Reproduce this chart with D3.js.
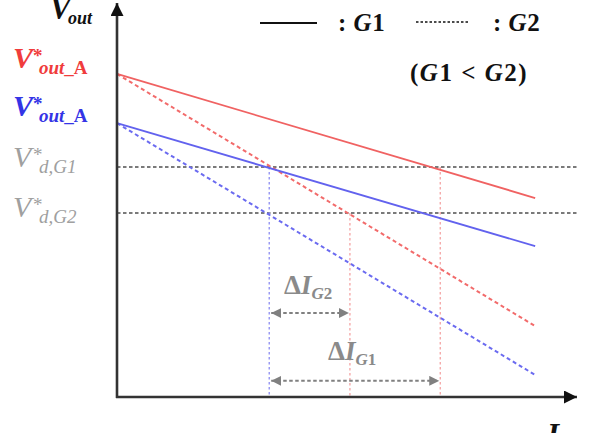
<!DOCTYPE html>
<html>
<head>
<meta charset="utf-8">
<script src="https://cdn.jsdelivr.net/npm/d3@7"></script>
<style>
  body { margin: 0; background: #fff; }
  svg { display: block; font-family: "Liberation Serif", "Times New Roman", serif; }
</style>
</head>
<body>
<svg id="chart" width="597" height="433"></svg>
<script>
// current on x, voltage on y (arbitrary units)
var iRange   = [0, 10],
	redG1    = [8.2, 5.05],
	redG2    = [8.2, 1.8],
	blueG1   = [6.95, 3.83],
	blueG2   = [6.95, 0.56];

var refLevels = [5.84, 4.67],
	refNames  = ["d,G1", "d,G2"];

// vertical guides: current where a line meets a reference level
var guideI   = [3.64, 5.57, 7.73],
	guideTop = [5.84, 4.67, 5.84],
	guideCol = ["#8c8cf2", "#f4a3a3", "#f4a3a3"];

// ΔI arrows
var deltaFrom = [3.64, 3.64],
	deltaTo   = [5.57, 7.73],
	deltaV    = [2.13, 0.41],
	deltaName = ["G2", "G1"];

var svg = d3.select("#chart");

var x = d3.scaleLinear().domain([0, 11]).range([117, 577]),
	y = d3.scaleLinear().domain([0, 10]).range([397, 3]);

var defs = svg.append("defs");
defs.append("marker")
	.attr("id", "axisHead")
	.attr("viewBox", "0 0 10 10")
	.attr("refX", 10).attr("refY", 5)
	.attr("markerWidth", 5).attr("markerHeight", 5)
	.attr("markerUnits", "strokeWidth")
	.attr("orient", "auto")
  .append("path").attr("d", "M0,0L10,5L0,10Z").attr("fill", "#111");
defs.append("marker")
	.attr("id", "grayHead")
	.attr("viewBox", "0 0 10 10")
	.attr("refX", 10).attr("refY", 5)
	.attr("markerWidth", 5).attr("markerHeight", 5)
	.attr("markerUnits", "strokeWidth")
	.attr("orient", "auto-start-reverse")
  .append("path").attr("d", "M0,0L10,5L0,10Z").attr("fill", "#808080");

// reference levels
svg.selectAll(".ref")
	.data(refLevels)
  .enter().append("line")
	.attr("class", "ref")
	.attr("x1", x(0)).attr("x2", x(11))
	.attr("y1", d => y(d)).attr("y2", d => y(d))
	.attr("stroke", "#7a7a7a")
	.attr("stroke-width", 2)
	.attr("stroke-dasharray", "3.5,2.5");

// vertical guides
svg.selectAll(".guide")
	.data(guideI)
  .enter().append("line")
	.attr("class", "guide")
	.attr("x1", d => x(d)).attr("x2", d => x(d))
	.attr("y1", (d, i) => y(guideTop[i])).attr("y2", y(0))
	.attr("stroke", (d, i) => guideCol[i])
	.attr("stroke-width", 1.3)
	.attr("stroke-dasharray", "2.5,2.5");

// load lines
var lines = [
	{v: redG2,  color: "#f26b6b", dash: "4,3", w: 2},
	{v: blueG2, color: "#6b6bf0", dash: "4,3", w: 2},
	{v: redG1,  color: "#f06262", dash: null,  w: 1.8},
	{v: blueG1, color: "#6262ee", dash: null,  w: 1.8}
];
var line = d3.line().x((d, i) => x(iRange[i])).y(d => y(d));
svg.selectAll(".load")
	.data(lines)
  .enter().append("path")
	.attr("class", "load")
	.attr("d", d => line(d.v))
	.attr("fill", "none")
	.attr("stroke", d => d.color)
	.attr("stroke-width", d => d.w)
	.attr("stroke-dasharray", d => d.dash);

// ΔI arrows
svg.selectAll(".delta")
	.data(deltaV)
  .enter().append("line")
	.attr("class", "delta")
	.attr("x1", (d, i) => x(deltaFrom[i]) + 2).attr("x2", (d, i) => x(deltaTo[i]) - 1)
	.attr("y1", d => y(d)).attr("y2", d => y(d))
	.attr("stroke", "#808080")
	.attr("stroke-width", 2)
	.attr("stroke-dasharray", "3.5,2.5")
	.attr("marker-start", "url(#grayHead)")
	.attr("marker-end", "url(#grayHead)");

var dLabel = svg.selectAll(".dlabel")
	.data(deltaName)
  .enter().append("text")
	.attr("class", "dlabel")
	.attr("x", (d, i) => i == 0 ? 284 : 328)
	.attr("y", (d, i) => i == 0 ? 294 : 360)
	.attr("fill", "#8a8a8a")
	.attr("font-size", 27)
	.attr("font-weight", "bold");
dLabel.append("tspan").text("Δ");
dLabel.append("tspan").attr("font-style", "italic").text("I");
dLabel.append("tspan").attr("font-size", 17).attr("dy", 5).attr("font-style", "italic")
	.text(d => d.charAt(0));
dLabel.append("tspan").attr("font-size", 17).text(d => d.charAt(1));

// axes
svg.append("line")
	.attr("x1", x(0)).attr("x2", x(0))
	.attr("y1", y(0) + 1).attr("y2", y(10))
	.attr("stroke", "#333").attr("stroke-width", 2.6)
	.attr("marker-end", "url(#axisHead)");
svg.append("line")
	.attr("x1", x(0) - 1).attr("x2", x(11))
	.attr("y1", y(0)).attr("y2", y(0))
	.attr("stroke", "#333").attr("stroke-width", 2.6)
	.attr("marker-end", "url(#axisHead)");

// axis titles
function axisTitle(xp, yp, letter, subX, subY) {
	var t = svg.append("text").attr("x", xp).attr("y", yp)
		.attr("font-size", 31).attr("font-weight", "bold").attr("font-style", "italic").attr("fill", "#111");
	t.append("tspan").text(letter);
	t.append("tspan").attr("x", subX).attr("y", subY).attr("font-size", 18).text("out");
}
axisTitle(50, 19, "V", 68, 24);
axisTitle(547, 445, "I", 562, 450);

// left labels: V, star, subscript placed separately
function starLabel(yp, color, weight, sub, tail) {
	var t = svg.append("text").attr("x", 13).attr("y", yp)
		.attr("fill", color).attr("font-size", 30).attr("font-weight", weight);
	t.append("tspan").attr("font-style", "italic").text("V");
	t.append("tspan").attr("x", 33).attr("y", yp - 6).attr("font-size", 19).text("*");
	t.append("tspan").attr("x", 39).attr("y", yp + 6).attr("font-size", 19).attr("font-style", "italic").text(sub);
	if (tail) t.append("tspan").attr("font-size", 19).text(tail);
}
starLabel(68, "#f03c3c", "bold", "out", "_A");
starLabel(116, "#3434e6", "bold", "out", "_A");
starLabel(167, "#a0a0a0", "normal", refNames[0], null);
starLabel(217, "#a0a0a0", "normal", refNames[1], null);

// legend
svg.append("line").attr("x1", 260).attr("x2", 317).attr("y1", 23).attr("y2", 23)
	.attr("stroke", "#111").attr("stroke-width", 1.8);
svg.append("line").attr("x1", 416).attr("x2", 468).attr("y1", 22).attr("y2", 22)
	.attr("stroke", "#111").attr("stroke-width", 1.5).attr("stroke-dasharray", "2.5,2");

function legendText(xp, yp, parts, sp) {
	var t = svg.append("text").attr("x", xp).attr("y", yp)
		.attr("font-size", 25).attr("font-weight", "bold").attr("fill", "#111")
		.attr("letter-spacing", sp);
	parts.forEach(p => t.append("tspan").attr("font-style", p[1] ? "italic" : "normal").text(p[0]));
}
legendText(338, 31, [[":  ", 0], ["G", 1], ["1", 0]], 0.5);
legendText(493, 31, [[":  ", 0], ["G", 1], ["2", 0]], 0.5);
legendText(410, 81, [["(", 0], ["G", 1], ["1 < ", 0], ["G", 1], ["2)", 0]], 1.5);
</script>
</body>
</html>
